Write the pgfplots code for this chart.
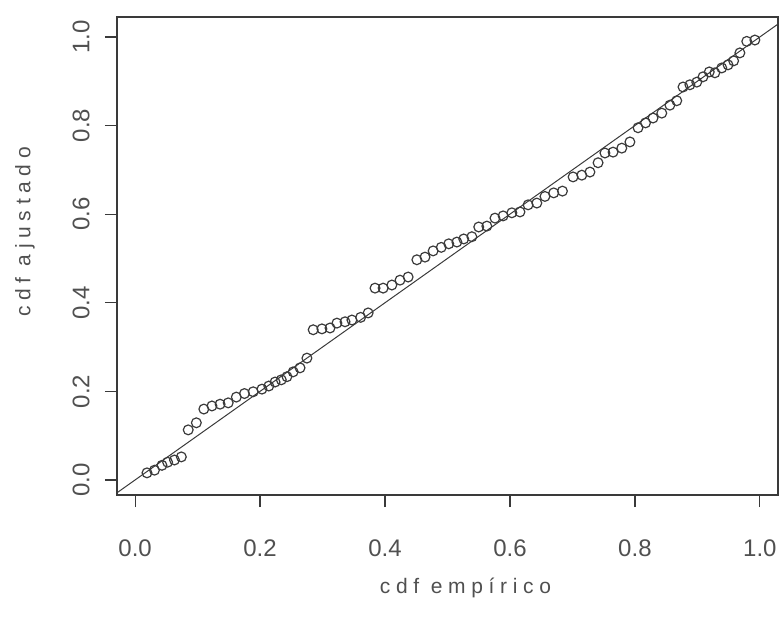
\documentclass[border=0pt]{standalone}
\usepackage{fontspec}
\setmainfont{Liberation Sans}
\newfontfamily\spaced[LetterSpace=27]{Liberation Sans}
\usepackage{pgfplots}
\pgfplotsset{compat=1.18}
\usetikzlibrary{calc}
\definecolor{ink}{HTML}{3A3A3A}
\definecolor{lbl}{HTML}{505050}

% P-P plot: empirical cdf vs fitted cdf
\pgfplotstableread{
x y
0.019 0.016
0.031 0.022
0.043 0.033
0.052 0.040
0.063 0.045
0.074 0.052
0.085 0.113
0.098 0.129
0.110 0.160
0.123 0.167
0.136 0.171
0.149 0.174
0.162 0.187
0.175 0.195
0.189 0.199
0.203 0.205
0.214 0.212
0.224 0.221
0.234 0.226
0.243 0.233
0.253 0.244
0.264 0.253
0.275 0.275
0.285 0.339
0.299 0.341
0.312 0.343
0.323 0.354
0.336 0.357
0.347 0.361
0.361 0.367
0.373 0.377
0.384 0.433
0.397 0.433
0.411 0.440
0.424 0.451
0.437 0.458
0.451 0.497
0.464 0.503
0.477 0.517
0.490 0.525
0.502 0.533
0.515 0.537
0.526 0.544
0.539 0.549
0.550 0.571
0.563 0.573
0.576 0.591
0.589 0.596
0.603 0.603
0.616 0.605
0.629 0.621
0.643 0.625
0.656 0.640
0.670 0.648
0.684 0.652
0.701 0.684
0.715 0.688
0.728 0.695
0.741 0.716
0.752 0.738
0.765 0.740
0.779 0.749
0.792 0.763
0.805 0.795
0.817 0.806
0.829 0.817
0.843 0.828
0.856 0.846
0.867 0.856
0.877 0.887
0.888 0.892
0.899 0.898
0.909 0.910
0.919 0.921
0.928 0.919
0.939 0.930
0.949 0.937
0.958 0.946
0.968 0.964
0.979 0.990
0.992 0.993
}\pp

\begin{document}
\begin{tikzpicture}
\begin{axis}[
    scale only axis, width=330.5pt, height=239pt,
    xmin=-0.029, xmax=1.029, ymin=-0.034, ymax=1.045,
    xtick={0,0.2,0.4,0.6,0.8,1}, ytick={0,0.2,0.4,0.6,0.8,1},
    xtick pos=left, ytick pos=left,
    tick align=outside, major tick length=6pt,
    axis line style={ink, line width=0.6pt},
    tick style={ink, line width=0.6pt},
    /pgf/number format/assume math mode=true,
    /pgf/number format/fixed, /pgf/number format/fixed zerofill,
    /pgf/number format/precision=1,
    ticklabel style={font=\fontsize{12}{12}\selectfont, text=lbl, inner sep=0pt},
    xticklabel style={anchor=north}, xticklabel shift=16pt,
    yticklabel style={rotate=90, anchor=south}, yticklabel shift=7.5pt,
    xlabel={\spaced cdf empírico},
    ylabel={\spaced cdf ajustado},
    label style={font=\fontsize{10.5}{12}\selectfont, text=lbl},
    xlabel style={at={(rel axis cs:0.5,0)}, anchor=center, xshift=9pt, yshift=-46.5pt},
    ylabel style={at={(rel axis cs:0,0.5)}, anchor=center, xshift=12pt, yshift=46pt},
    clip=true,
]
\coordinate (bl) at (rel axis cs:0,0);
\coordinate (tr) at (rel axis cs:1,1);
\addplot[ink, line width=0.5pt] coordinates {(-0.1,-0.1) (1.1,1.1)};
\addplot[only marks, mark=o, mark size=2.45pt, mark options={ink, line width=0.6pt}] table[x=x, y=y] {\pp};
\end{axis}
\pgfresetboundingbox
\path[use as bounding box] ($(bl)+(-58.5pt,-61pt)$) rectangle ($(tr)+(0.5pt,8.5pt)$);
\end{tikzpicture}
\end{document}
